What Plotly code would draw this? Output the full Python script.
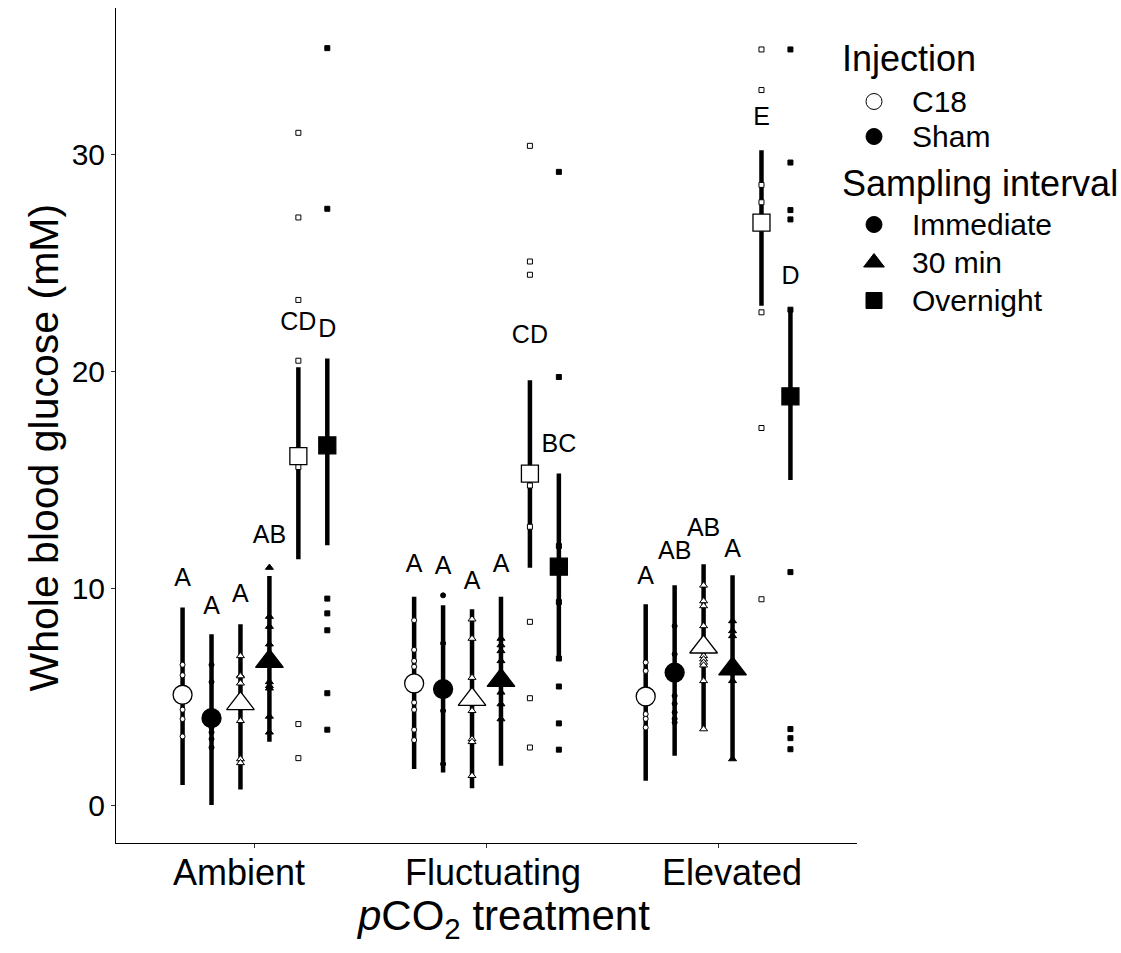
import plotly.graph_objects as go

# ---------------- data ----------------
treatments = ["Ambient", "Fluctuating", "Elevated"]
series_order = ["C18 Immediate", "Sham Immediate", "C18 30 min",
                "Sham 30 min", "C18 Overnight", "Sham Overnight"]

mean_glucose = {
    "C18 Immediate":  [5.11, 5.63, 5.03],
    "Sham Immediate": [4.03, 5.37, 6.13],
    "C18 30 min":     [4.70, 4.90, 7.31],
    "Sham 30 min":    [6.65, 5.77, 6.30],
    "C18 Overnight":  [16.1, 15.3, 26.86],
    "Sham Overnight": [16.6, 11.01, 18.86],
}
ci_low = {
    "C18 Immediate":  [0.95, 1.69, 1.15],
    "Sham Immediate": [0.03, 1.53, 2.30],
    "C18 30 min":     [0.74, 0.80, 3.53],
    "Sham 30 min":    [2.94, 1.84, 2.15],
    "C18 Overnight":  [11.35, 10.96, 23.03],
    "Sham Overnight": [12.0, 6.78, 15.0],
}
ci_high = {
    "C18 Immediate":  [9.13, 9.63, 9.28],
    "Sham Immediate": [7.90, 9.23, 10.15],
    "C18 30 min":     [8.36, 9.05, 11.12],
    "Sham 30 min":    [10.58, 9.63, 10.61],
    "C18 Overnight":  [20.2, 19.6, 30.2],
    "Sham Overnight": [20.6, 15.3, 22.85],
}
letters = {
    "C18 Immediate":  ["A", "A", "A"],
    "Sham Immediate": ["A", "A", "AB"],
    "C18 30 min":     ["A", "A", "AB"],
    "Sham 30 min":    ["AB", "A", "A"],
    "C18 Overnight":  ["CD", "CD", "E"],
    "Sham Overnight": ["D", "BC", "D"],
}
letter_y = {
    "C18 Immediate":  [10.43, 11.04, 10.5],
    "Sham Immediate": [9.13, 10.96, 11.66],
    "C18 30 min":     [9.66, 10.27, 12.73],
    "Sham 30 min":    [12.4, 11.04, 11.73],
    "C18 Overnight":  [22.2, 21.6, 31.66],
    "Sham Overnight": [21.9, 16.6, 24.3],
}
raw_glucose = {
    "C18 Immediate":  [[6.49, 6.01, 5.3, 4.42, 3.99, 3.19],
                       [8.54, 7.18, 6.67, 6.4, 4.75, 4.42, 3.5, 3.02],
                       [6.6, 6.21, 4.22, 4.0, 3.6]],
    "Sham Immediate": [[6.49, 5.70, 3.76, 3.6, 3.38, 3.07, 2.68],
                       [9.69, 7.48, 5.07, 4.37, 1.92],
                       [8.28, 6.98, 5.06, 4.7, 4.3, 4.0, 3.83]],
    "C18 30 min":     [[6.90, 6.0, 5.97, 5.64, 3.91, 2.15, 1.97],
                       [8.59, 7.7, 5.9, 4.37, 3.07, 2.94, 1.38],
                       [10.15, 9.43, 9.2, 8.28, 6.9, 6.75, 6.6, 6.47, 5.75, 3.53]],
    "Sham 30 min":    [[10.97, 8.71, 8.25, 7.44, 5.7, 5.52, 5.41, 4.11, 3.38],
                       [7.7, 7.4, 7.13, 6.67, 5.22, 4.68, 3.99],
                       [8.51, 8.05, 7.82, 5.75, 2.15]],
    "C18 Overnight":  [[31.0, 27.1, 23.3, 20.5, 15.6, 3.76, 2.19],
                       [30.4, 25.07, 24.46, 14.75, 12.85, 8.47, 4.95, 2.68],
                       [34.84, 32.97, 28.6, 27.8, 22.73, 17.4, 9.51]],
    "Sham Overnight": [[34.9, 27.5, 9.54, 8.86, 8.08, 5.18, 3.5],
                       [29.2, 19.75, 11.96, 9.38, 6.78, 5.49, 3.79, 2.58],
                       [34.84, 29.63, 27.44, 27.01, 22.85, 10.76, 3.53, 3.11, 2.6]],
}

injection_levels = ["C18", "Sham"]
interval_levels = ["Immediate", "30 min", "Overnight"]

# ---------------- style ----------------
FONT = "Liberation Sans, Arial, sans-serif"
W, H = 1121, 953
ML, MT, MB = 116, 8, 110
PANEL_RIGHT = 857                      # right end of the x axis line (px)
X_RANGE = [0.4, 3.6]
dodge = 0.75 / 6
symbol_of = {"Immediate": "circle", "30 min": "triangle-up", "Overnight": "square"}
big_size = {"Immediate": 19, "30 min": 24, "Overnight": 17}
small_size = {"Immediate": 5, "30 min": 7, "Overnight": 5}
# horizontal placement (px) of the category labels / x title in the original
tick_label_px = [238.5, 492.5, 732]
x_title_px = 503

fig = go.Figure()

for k, s in enumerate(series_order):
    inj, intv = s.split(" ", 1)
    xs = [i + 1 + (k - 2.5) * dodge for i in range(len(treatments))]
    fill = "white" if inj == "C18" else "black"
    m = mean_glucose[s]
    lo = ci_low[s]
    hi = ci_high[s]
    # interval bar (drawn first)
    fig.add_trace(go.Scatter(
        x=xs, y=m, mode="markers", showlegend=False, hoverinfo="skip",
        marker=dict(size=1, color="rgba(0,0,0,0)"),
        error_y=dict(type="data", symmetric=False,
                     array=[h - v for h, v in zip(hi, m)],
                     arrayminus=[v - l for v, l in zip(m, lo)],
                     thickness=4.5, width=0, color="black"),
    ))
    # raw observations
    rx, ry = [], []
    for x0, vals in zip(xs, raw_glucose[s]):
        rx += [x0] * len(vals)
        ry += vals
    fig.add_trace(go.Scatter(
        x=rx, y=ry, mode="markers", showlegend=False, hoverinfo="skip",
        marker=dict(symbol=symbol_of[intv], size=small_size[intv], color=fill,
                    line=dict(color="black", width=1)),
    ))
    # mean
    fig.add_trace(go.Scatter(
        x=xs, y=m, mode="markers", showlegend=False, hoverinfo="skip",
        marker=dict(symbol=symbol_of[intv], size=big_size[intv], color=fill,
                    line=dict(color="black", width=1.3)),
    ))
    # significance letters
    fig.add_trace(go.Scatter(
        x=xs, y=letter_y[s], mode="text", text=letters[s], showlegend=False,
        hoverinfo="skip", textposition="middle center",
        textfont=dict(family=FONT, size=25, color="black"),
    ))

# ---------------- custom legend (pixel-space helper axes) ----------------
LEG_LEFT = 820
leg_title_x = 840
leg_marker_x = 874
leg_text_x = 910
leg_rows = [("title", "Injection", None, None, 58),
            ("item", "C18", "circle", "white", 101.5),
            ("item", "Sham", "circle", "black", 136.5),
            ("title", "Sampling interval", None, None, 183),
            ("item", "Immediate", symbol_of["Immediate"], "black", 224.5),
            ("item", "30 min", symbol_of["30 min"], "black", 262.5),
            ("item", "Overnight", symbol_of["Overnight"], "black", 300.5)]

for kind, label, sym, fill, ypx in leg_rows:
    if kind == "item":
        fig.add_trace(go.Scatter(
            x=[leg_marker_x], y=[ypx], xaxis="x2", yaxis="y2", mode="markers",
            showlegend=False, hoverinfo="skip",
            marker=dict(symbol=sym, size=16 if sym != "triangle-up" else 18,
                        color=fill, line=dict(color="black", width=1)),
        ))
    fig.add_annotation(
        xref="x2", yref="y2", x=leg_title_x if kind == "title" else leg_text_x,
        y=ypx, text=label, showarrow=False, xanchor="left", yanchor="middle",
        font=dict(family=FONT, size=36 if kind == "title" else 30, color="black"),
    )

px_per_unit = (PANEL_RIGHT - ML) / (X_RANGE[1] - X_RANGE[0])


def px_to_x(px):
    return X_RANGE[0] + (px - ML) / px_per_unit


for lab, px in zip(treatments, tick_label_px):
    fig.add_annotation(
        xref="x", yref="paper", x=px_to_x(px), y=0, yshift=-29,
        text=lab, showarrow=False, xanchor="center", yanchor="middle",
        font=dict(family=FONT, size=36, color="black"),
    )

fig.add_annotation(
    xref="x", yref="paper", x=px_to_x(x_title_px), y=0, yshift=-(918 - (H - MB)),
    text="<i>p</i>CO<sub>2</sub> treatment", showarrow=False,
    xanchor="center", yanchor="middle",
    font=dict(family=FONT, size=42, color="black"),
)

fig.add_annotation(
    xref="paper", yref="paper", x=0, y=0.5, xshift=-(ML - 43), yshift=-22,
    text="Whole blood glucose (mM)", textangle=-90, showarrow=False,
    xanchor="center", yanchor="middle",
    font=dict(family=FONT, size=41, color="black"),
)

panel_frac = (PANEL_RIGHT - ML) / (W - ML)
leg_frac = (LEG_LEFT - ML) / (W - ML)

fig.update_layout(
    width=W, height=H,
    margin=dict(l=ML, r=0, t=MT, b=MB),
    paper_bgcolor="white", plot_bgcolor="white",
    font=dict(family=FONT, color="black"),
    showlegend=False,
    xaxis=dict(
        domain=[0, panel_frac],
        range=X_RANGE, tickmode="array", tickvals=[1, 2, 3],
        ticktext=treatments, showticklabels=False, showgrid=False,
        zeroline=False, showline=True, linecolor="black", linewidth=1,
        ticks="outside", ticklen=4, tickcolor="#333",
    ),
    yaxis=dict(
        range=[-1.72, 36.75], tickvals=[0, 10, 20, 30], showgrid=False,
        zeroline=False, showline=True, linecolor="black", linewidth=1,
        ticks="outside", ticklen=4, tickcolor="#333",
        tickfont=dict(size=30, color="black", family=FONT),
    ),
    xaxis2=dict(domain=[leg_frac, 1], range=[LEG_LEFT, W], visible=False,
                anchor="y2", fixedrange=True),
    yaxis2=dict(domain=[0, 1], range=[H - MB, MT], visible=False,
                anchor="x2", fixedrange=True),
)

fig.write_html("out.html")
